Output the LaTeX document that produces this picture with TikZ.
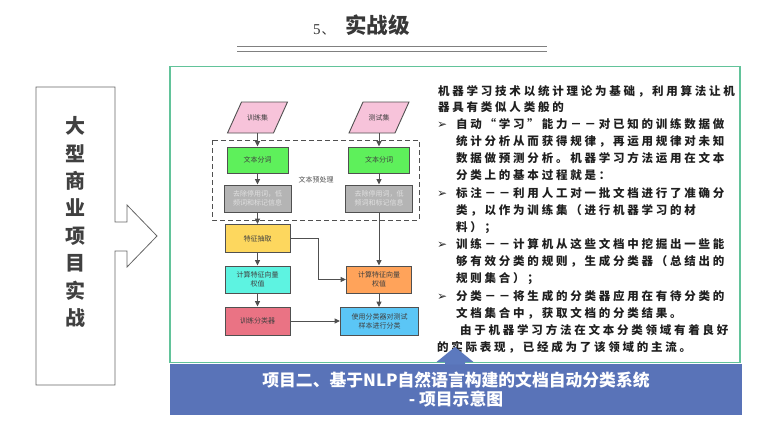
\documentclass[tikz,border=0pt]{standalone}
\usepackage{fontspec}
\setmainfont{Liberation Serif}
\newfontfamily\cjk{Noto Sans CJK SC}
\newfontfamily\bodyfont{Noto Sans CJK SC}[LetterSpace=24]
\newfontfamily\dejavu{DejaVu Sans}
\usetikzlibrary{arrows.meta}
\definecolor{frameG}{HTML}{62C39A}
\definecolor{barB}{HTML}{5973B8}
\definecolor{arrB}{HTML}{5C79BE}
\definecolor{fPink}{HTML}{F7C3DA}
\definecolor{fGreen}{HTML}{5EF05B}
\definecolor{fGray}{HTML}{B4B4B4}
\definecolor{fYellow}{HTML}{FDD75E}
\definecolor{fCyan}{HTML}{5DF3E1}
\definecolor{fRed}{HTML}{EA7384}
\definecolor{fOrange}{HTML}{FFA35A}
\definecolor{fBlue}{HTML}{5BC6F6}
\definecolor{lineG}{HTML}{505050}
\tikzset{
  fbox/.style={draw=lineG, line width=0.9pt, minimum width=65pt, minimum height=27pt,
    inner sep=1pt, font=\cjk\fontsize{7}{9}\selectfont, text=black!75, align=center},
  ptext/.style={inner sep=0pt, minimum width=46pt, minimum height=31pt,
    font=\cjk\fontsize{7}{9}\selectfont, text=black!75},
  para/.style={draw=lineG, line width=0.9pt, fill=fPink},
  conn/.style={draw=lineG, line width=1pt, -{Triangle[length=5.5pt,width=5pt]}},
  body/.style={anchor=base west, inner sep=0pt,
    font=\bodyfont\bfseries\fontsize{11.5}{13}\selectfont, text=black!88},
  bul/.style={anchor=base west, inner sep=0pt, font=\dejavu\fontsize{12}{12}\selectfont, text=black!85},
}
\begin{document}
\begin{tikzpicture}[x=1pt,y=-1pt]
\useasboundingbox (0,0) rectangle (761,429);

% title
\node[anchor=base west, inner sep=0pt, text=black!80] (t5) at (313,34)
  {\fontsize{15}{15}\selectfont 5\kern1pt\cjk\fontsize{13}{13}\selectfont 、};
\node[inner sep=0pt, text=black!78, font=\cjk\bfseries\fontsize{21.5}{22}\selectfont] (tt) at (377.5,25) {实战级};
\draw[black!50, line width=0.8pt] (237,46) -- (547,46);
\draw[black!50, line width=0.8pt] (237,51) -- (547,51);

% left box with arrow
\draw[black!60, line width=0.8pt] (36,87) -- (115,87) -- (115,222) -- (127,222) -- (127,205)
  -- (157,236) -- (127,267) -- (127,251) -- (115,251) -- (115,385) -- (36,385) -- cycle;
\node[align=center, inner sep=0pt, text=black!75,
  font=\cjk\bfseries\fontsize{20}{27.4}\selectfont] (lt) at (75,222)
  {大\\型\\商\\业\\项\\目\\实\\战};

% green frame
\draw[frameG, line width=1.3pt] (170,66.5) rectangle (740,362.5);

% flowchart
\draw[lineG, line width=1pt, dash pattern=on 5pt off 3pt] (212,140) rectangle (419,220);
\node[inner sep=0pt, text=black!70, font=\cjk\fontsize{7}{9}\selectfont] (pre) at (316,180) {文本预处理};

\draw[para] (257.5,117.5) ++(-30,15.5) -- ++(46,0) -- ++(14,-31) -- ++(-46,0) -- cycle;
\node[ptext] (p1) at (257.5,117.5) {训练集};
\draw[para] (379,117.5) ++(-30,15.5) -- ++(46,0) -- ++(14,-31) -- ++(-46,0) -- cycle;
\node[ptext] (p2) at (379,117.5) {测试集};

\node[fbox, fill=fGreen, minimum width=61pt, minimum height=26pt] (g1) at (257.5,160) {文本分词};
\node[fbox, fill=fGreen, minimum width=61pt, minimum height=26pt] (g2) at (379,160) {文本分词};
\node[fbox, fill=fGray, minimum width=67pt, text=white!88!black] (h1) at (257.5,198.5) {去除停用词，低\\频词和标记信息};
\node[fbox, fill=fGray, minimum width=67pt, text=white!88!black] (h2) at (379,198.5) {去除停用词，低\\频词和标记信息};
\node[fbox, fill=fYellow, minimum height=28pt] (y1) at (257.5,238.5) {特征抽取};
\node[fbox, fill=fCyan] (c1) at (257.5,279.5) {计算特征向量\\权值};
\node[fbox, fill=fRed, minimum height=28pt] (r1) at (257.5,321) {训练分类器};
\node[fbox, fill=fOrange] (o1) at (379,279.5) {计算特征向量\\权值};
\node[fbox, fill=fBlue, minimum width=78pt, minimum height=28pt] (b1) at (379.5,321.5) {使用分类器对测试\\样本进行分类};

\draw[conn] (p1.south) -- (g1.north);
\draw[conn] (g1.south) -- (h1.north);
\draw[conn] (h1.south) -- (y1.north);
\draw[conn] (y1.south) -- (c1.north);
\draw[conn] (c1.south) -- (r1.north);
\draw[conn] (p2.south) -- (g2.north);
\draw[conn] (g2.south) -- (h2.north);
\draw[conn] (h2.south) -- (o1.north);
\draw[conn] (o1.south) -- (o1.south |- b1.north);
\coordinate (kx) at (318,0);
\draw[conn] (y1.east) -- (y1.east -| kx) |- (o1.west);
\draw[conn] (r1.east) -- (r1.east -| b1.west);

% right text
\node[body] (l1) at (438,95.5) {机器学习技术以统计理论为基础，利用算法让机};
\node[body] (l2) at (438,111.5) {器具有类似人类般的};
\node[bul] (u1) at (437,128.5) {➢};
\node[body] (l3) at (456,128.5) {自动“学习”能力－－对已知的训练数据做};
\node[body] (l4) at (456,145.5) {统计分析从而获得规律，再运用规律对未知};
\node[body] (l5) at (456,162.5) {数据做预测分析。机器学习方法运用在文本};
\node[body] (l6) at (456,179.5) {分类上的基本过程就是：};
\node[bul] (u2) at (437,197.5) {➢};
\node[body] (l7) at (456,197.5) {标注－－利用人工对一批文档进行了准确分};
\node[body] (l8) at (456,214.5) {类，以作为训练集（进行机器学习的材};
\node[body] (l9) at (456,231.5) {料）；};
\node[bul] (u3) at (437,248.5) {➢};
\node[body] (l10) at (456,248.5) {训练－－计算机从这些文档中挖掘出一些能};
\node[body] (l11) at (456,265.5) {够有效分类的规则，生成分类器（总结出的};
\node[body] (l12) at (456,282.5) {规则集合）；};
\node[bul] (u4) at (437,300.5) {➢};
\node[body] (l13) at (456,300.5) {分类－－将生成的分类器应用在有待分类的};
\node[body] (l14) at (456,317.5) {文档集合中，获取文档的分类结果。};
\node[body] (l15) at (460,334.5) {由于机器学习方法在文本分类领域有着良好};
\node[body] (l16) at (437,351.5) {的实际表现，已经成为了该领域的主流。};

% bottom bar
\node[fill=barB, minimum width=572pt, minimum height=51pt, inner sep=0pt, align=center,
  text=white, font=\cjk\bfseries\fontsize{16.8}{19}\selectfont] (bar) at (456,389.5)
  {项目二、基于NLP自然语言构建的文档自动分类系统\\- 项目示意图};
\fill[arrB] (455,347) -- (473.5,362) -- (465,362) -- (465,364.5) -- (445,364.5) -- (445,362) -- (436.5,362) -- cycle;
\end{tikzpicture}
\end{document}
